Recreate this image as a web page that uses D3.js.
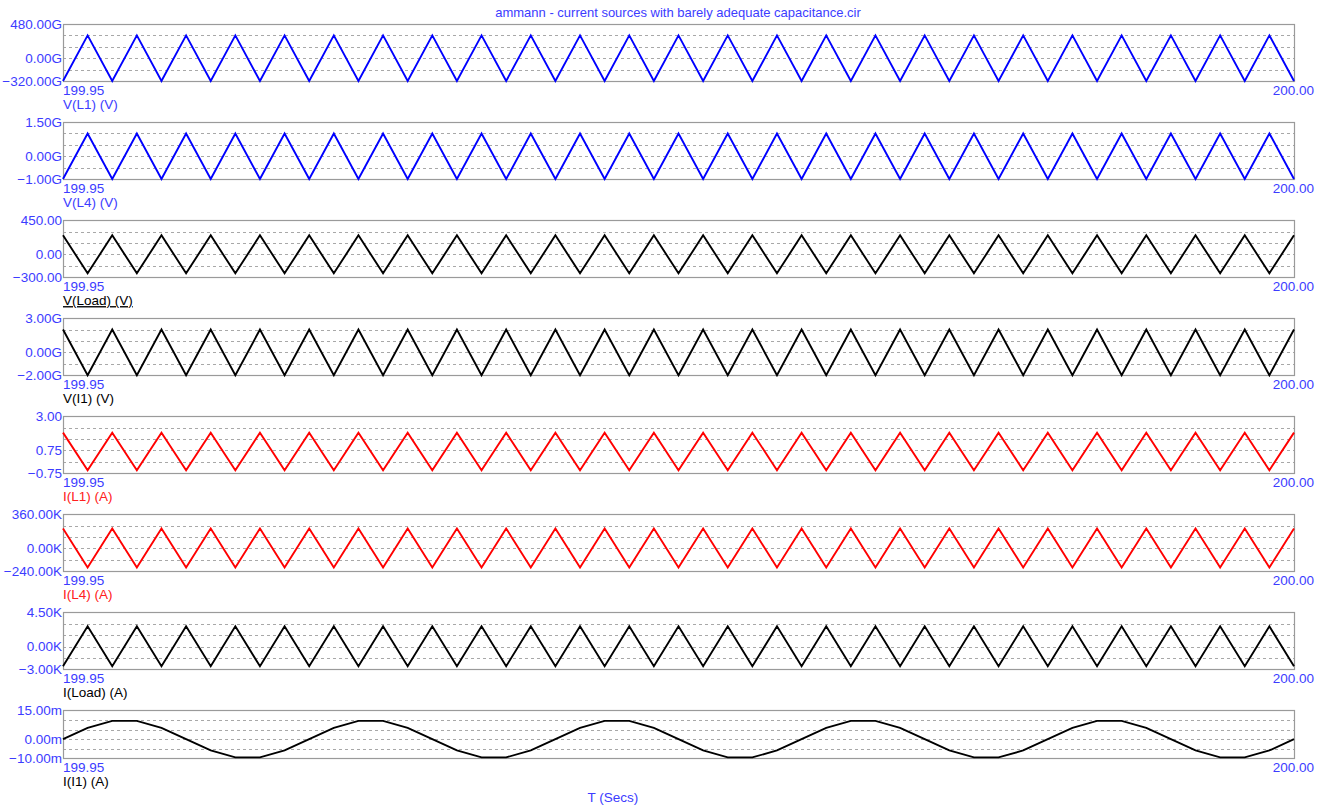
<!DOCTYPE html>
<html>
<head>
<meta charset="utf-8">
<script src="https://cdn.jsdelivr.net/npm/d3@7"></script>
<style>
  body { margin: 0; background: #fff; }
  text { font-family: Arial, "Liberation Sans", sans-serif; }
</style>
</head>
<body>
<div id="chart"></div>
<script>
// time samples (secs)
const times = [
  199.950, 199.951, 199.952, 199.953, 199.954, 199.955, 199.956, 199.957, 199.958, 199.959,
  199.960, 199.961, 199.962, 199.963, 199.964, 199.965, 199.966, 199.967, 199.968, 199.969,
  199.970, 199.971, 199.972, 199.973, 199.974, 199.975, 199.976, 199.977, 199.978, 199.979,
  199.980, 199.981, 199.982, 199.983, 199.984, 199.985, 199.986, 199.987, 199.988, 199.989,
  199.990, 199.991, 199.992, 199.993, 199.994, 199.995, 199.996, 199.997, 199.998, 199.999,
  200.000
];

// V(L1) in G
const vL1 = [
  -320, 320, -320, 320, -320, 320, -320, 320, -320, 320,
  -320, 320, -320, 320, -320, 320, -320, 320, -320, 320,
  -320, 320, -320, 320, -320, 320, -320, 320, -320, 320,
  -320, 320, -320, 320, -320, 320, -320, 320, -320, 320,
  -320, 320, -320, 320, -320, 320, -320, 320, -320, 320,
  -320
];
// V(L4) in G
const vL4 = [
  -1, 1, -1, 1, -1, 1, -1, 1, -1, 1,
  -1, 1, -1, 1, -1, 1, -1, 1, -1, 1,
  -1, 1, -1, 1, -1, 1, -1, 1, -1, 1,
  -1, 1, -1, 1, -1, 1, -1, 1, -1, 1,
  -1, 1, -1, 1, -1, 1, -1, 1, -1, 1,
  -1
];
// V(Load)
const vLoad = [
  250, -250, 250, -250, 250, -250, 250, -250, 250, -250,
  250, -250, 250, -250, 250, -250, 250, -250, 250, -250,
  250, -250, 250, -250, 250, -250, 250, -250, 250, -250,
  250, -250, 250, -250, 250, -250, 250, -250, 250, -250,
  250, -250, 250, -250, 250, -250, 250, -250, 250, -250,
  250
];
// V(I1) in G
const vI1 = [
  2, -2, 2, -2, 2, -2, 2, -2, 2, -2,
  2, -2, 2, -2, 2, -2, 2, -2, 2, -2,
  2, -2, 2, -2, 2, -2, 2, -2, 2, -2,
  2, -2, 2, -2, 2, -2, 2, -2, 2, -2,
  2, -2, 2, -2, 2, -2, 2, -2, 2, -2,
  2
];
// I(L1)
const iL1 = [
  1.92, -0.55, 1.92, -0.55, 1.92, -0.55, 1.92, -0.55, 1.92, -0.55,
  1.92, -0.55, 1.92, -0.55, 1.92, -0.55, 1.92, -0.55, 1.92, -0.55,
  1.92, -0.55, 1.92, -0.55, 1.92, -0.55, 1.92, -0.55, 1.92, -0.55,
  1.92, -0.55, 1.92, -0.55, 1.92, -0.55, 1.92, -0.55, 1.92, -0.55,
  1.92, -0.55, 1.92, -0.55, 1.92, -0.55, 1.92, -0.55, 1.92, -0.55,
  1.92
];
// I(L4) in K
const iL4 = [
  210, -200, 210, -200, 210, -200, 210, -200, 210, -200,
  210, -200, 210, -200, 210, -200, 210, -200, 210, -200,
  210, -200, 210, -200, 210, -200, 210, -200, 210, -200,
  210, -200, 210, -200, 210, -200, 210, -200, 210, -200,
  210, -200, 210, -200, 210, -200, 210, -200, 210, -200,
  210
];
// I(Load) in K
const iLoad = [
  -2.6, 2.65, -2.6, 2.65, -2.6, 2.65, -2.6, 2.65, -2.6, 2.65,
  -2.6, 2.65, -2.6, 2.65, -2.6, 2.65, -2.6, 2.65, -2.6, 2.65,
  -2.6, 2.65, -2.6, 2.65, -2.6, 2.65, -2.6, 2.65, -2.6, 2.65,
  -2.6, 2.65, -2.6, 2.65, -2.6, 2.65, -2.6, 2.65, -2.6, 2.65,
  -2.6, 2.65, -2.6, 2.65, -2.6, 2.65, -2.6, 2.65, -2.6, 2.65,
  -2.6
];
// I(I1) in m
const iI1 = [
  0, 5.9, 9.5, 9.5, 5.9, 0, -5.9, -9.5, -9.5, -5.9,
  0, 5.9, 9.5, 9.5, 5.9, 0, -5.9, -9.5, -9.5, -5.9,
  0, 5.9, 9.5, 9.5, 5.9, 0, -5.9, -9.5, -9.5, -5.9,
  0, 5.9, 9.5, 9.5, 5.9, 0, -5.9, -9.5, -9.5, -5.9,
  0, 5.9, 9.5, 9.5, 5.9, 0, -5.9, -9.5, -9.5, -5.9,
  0
];

const seriesNames = ["V(L1) (V)", "V(L4) (V)", "V(Load) (V)", "V(I1) (V)",
                     "I(L1) (A)", "I(L4) (A)", "I(Load) (A)", "I(I1) (A)"];
const seriesValues = [vL1, vL4, vLoad, vI1, iL1, iL4, iLoad, iI1];
const yDomains = [[-320, 480], [-1, 1.5], [-300, 450], [-2, 3],
                  [-0.75, 3], [-240, 360], [-3, 4.5], [-10, 15]];
const midTicks = [0, 0, 0, 0, 0.75, 0, 0, 0];
const unitSuffix = ["G", "G", "", "G", "", "K", "K", "m"];
const xTickLabels = ["199.95", "200.00"];
const chartTitle = "ammann - current sources with barely adequate capacitance.cir";
const xTitle = "T (Secs)";

// look
const lineColors = ["#0000ff", "#0000ff", "#000000", "#000000", "#ff0000", "#ff0000", "#000000", "#000000"];
const nameColors = ["#3c3cff", "#3c3cff", "#000000", "#000000", "#ff2020", "#ff2020", "#000000", "#000000"];
const tickBlue = "#3c3cff";

const width = 1329, height = 809;
const left = 63, right = 1294;

const svg = d3.select('#chart').append('svg')
  .attr('width', width)
  .attr('height', height);

const x = d3.scaleLinear().domain([times[0], times[times.length - 1]]).range([left, right]);
const fmt = d3.format('.2f');

// title
svg.append('text')
  .attr('x', 678).attr('y', 17)
  .attr('text-anchor', 'middle')
  .attr('font-size', 13)
  .attr('fill', tickBlue)
  .text(chartTitle);

seriesValues.forEach((vals, i) => {
  const top = 24 + i * 98.05;
  const h = i === 7 ? 48 : 57;
  const bottom = top + h;
  const y = d3.scaleLinear().domain(yDomains[i]).range([bottom, top]);
  const g = svg.append('g').attr('class', 'panel');

  // dashed grid, 5 divisions
  const step = (yDomains[i][1] - yDomains[i][0]) / 5;
  const gridVals = [1, 2, 3, 4].map(k => yDomains[i][0] + k * step);
  g.selectAll('.grid')
    .data(gridVals)
    .enter().append('line')
    .attr('x1', left).attr('x2', right)
    .attr('y1', d => Math.round(y(d)) + 0.5)
    .attr('y2', d => Math.round(y(d)) + 0.5)
    .attr('stroke', '#a8a8a8')
    .attr('stroke-dasharray', '3,3');

  // frame
  g.append('rect')
    .attr('x', left + 0.5).attr('y', Math.round(top) + 0.5)
    .attr('width', right - left).attr('height', Math.round(h))
    .attr('fill', 'none')
    .attr('stroke', '#9a9a9a')
    .attr('stroke-width', 1.2);

  // trace
  const line = d3.line()
    .x((d, k) => x(times[k]))
    .y(d => y(d));
  g.append('path')
    .datum(vals)
    .attr('d', line)
    .attr('fill', 'none')
    .attr('stroke', lineColors[i])
    .attr('stroke-width', 1.9)
    .attr('stroke-linejoin', 'miter');

  // y labels
  const yTicks = [yDomains[i][1], midTicks[i], yDomains[i][0]];
  g.selectAll('.ylab')
    .data(yTicks)
    .enter().append('text')
    .attr('x', 62)
    .attr('y', d => y(d))
    .attr('dy', '0.36em')
    .attr('text-anchor', 'end')
    .attr('font-size', 13.5)
    .attr('fill', tickBlue)
    .text(d => fmt(d) + unitSuffix[i]);

  // x labels
  g.append('text')
    .attr('x', left).attr('y', bottom + 13.5)
    .attr('font-size', 13.5).attr('fill', tickBlue)
    .text(xTickLabels[0]);
  g.append('text')
    .attr('x', 1314).attr('y', bottom + 13.5)
    .attr('text-anchor', 'end')
    .attr('font-size', 13.5).attr('fill', tickBlue)
    .text(xTickLabels[1]);

  // series name
  g.append('text')
    .attr('x', left).attr('y', bottom + 28)
    .attr('font-size', 13.5)
    .attr('fill', nameColors[i])
    .attr('text-decoration', i === 2 ? 'underline' : null)
    .text(seriesNames[i]);
});

svg.append('text')
  .attr('x', 613).attr('y', 802)
  .attr('text-anchor', 'middle')
  .attr('font-size', 13.5)
  .attr('fill', tickBlue)
  .text(xTitle);
</script>
</body>
</html>
